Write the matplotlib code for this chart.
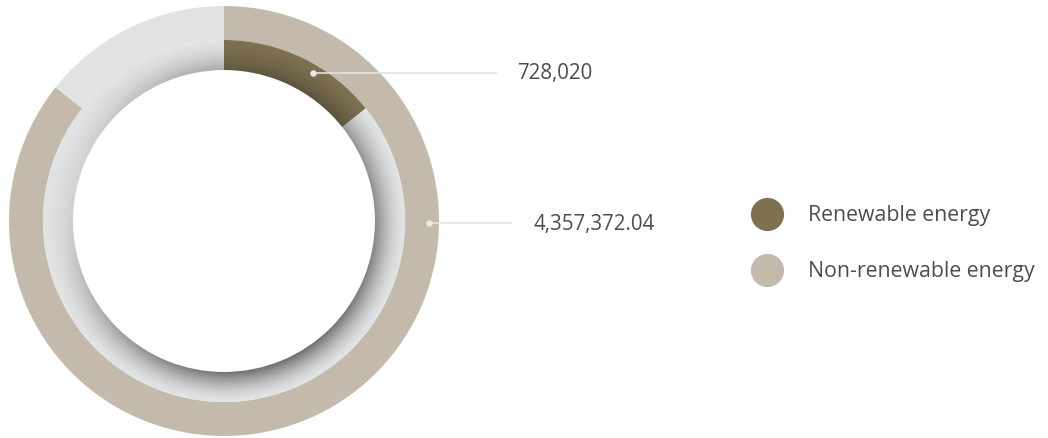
import numpy as np
import matplotlib
matplotlib.use("Agg")
import matplotlib.pyplot as plt
from matplotlib.patches import Wedge

# Energy consumption split
categories = ["Renewable energy", "Non-renewable energy"]
values = [728020, 4357372.04]
value_labels = ["728,020", "4,357,372.04"]

brown = "#7E7150"
tan = "#C3BAAB"
gray = "#E1E2E4"
text_color = "#4d4d4d"
font = "Open Sans"

W, H = 1048, 439
fig = plt.figure(figsize=(W / 100, H / 100), dpi=100)
ax = fig.add_axes([0, 0, 1, 1])

cx, cy = 224, 217
r_outer, r_mid, r_inner = 215, 181, 151

# outer ring: non-renewable share, remainder left blank (gray)
ax.pie([values[1], values[0]], colors=[tan, gray], radius=r_outer,
       center=(cx, cy), startangle=90, counterclock=False,
       wedgeprops=dict(width=r_outer - r_mid, linewidth=0))
# inner ring: renewable share
ax.pie([values[0], values[1]], colors=[brown, gray], radius=r_mid,
       center=(cx, cy), startangle=90, counterclock=False,
       wedgeprops=dict(width=r_mid - r_inner, linewidth=0))

# inset shadow on the inner ring
n = 2 * r_mid + 2
xs = np.linspace(cx - r_mid - 1, cx + r_mid + 1, n)
ys = np.linspace(cy - r_mid - 1, cy + r_mid + 1, n)
X, Y = np.meshgrid(xs, ys)
R = np.hypot(X - cx, Y - cy)
T = np.arctan2(Y - cy, X - cx)
amax = 0.3625 + 0.175 * np.cos(T) - 0.14 * np.sin(T) - 0.0775 * np.cos(2 * T)
t = np.clip((r_mid - R) / (r_mid - r_inner), 0, 1)
alpha = np.clip(amax * t ** 1.6, 0, 1)
img = np.zeros((n, n, 4))
img[..., :3] = 0.12
img[..., 3] = alpha
im = ax.imshow(img, extent=(xs[0], xs[-1], ys[0], ys[-1]), origin="lower",
               interpolation="bilinear", zorder=3)
clip = Wedge((cx, cy), r_mid, 0, 360, width=r_mid - r_inner,
             transform=ax.transData)
im.set_clip_path(clip)

# leader lines with value labels
anchors = [(31, 173), (90.6, 205)]   # (clockwise angle from top, radius)
line_end = [497, 512]
label_x = [517, 533]
for (ang, rr), xe, xl, lab in zip(anchors, line_end, label_x, value_labels):
    a = np.deg2rad(ang)
    px = cx + rr * np.sin(a)
    py = cy + rr * np.cos(a)
    ax.plot([px, xe], [py, py], color="#e2e2e2", lw=1.2, zorder=4,
            solid_capstyle="butt")
    ax.scatter([px], [py], s=22, color="#e8e8e8", zorder=5, linewidths=0)
    ax.text(xl, py, lab, fontsize=14.8, color=text_color, va="center",
            ha="left", family=font)

# legend
leg_y = [H - 215, H - 271]
for cat, col, yy in zip(categories, [brown, tan], leg_y):
    ax.scatter([767], [yy], s=570, color=col, linewidths=0)
    ax.text(808, yy, cat, fontsize=15.3, color=text_color, va="center",
            ha="left", family=font)

ax.set_xlim(0, W)
ax.set_ylim(0, H)
ax.set_aspect("auto")
ax.axis("off")

fig.savefig("out.png", dpi=100, facecolor="white")
